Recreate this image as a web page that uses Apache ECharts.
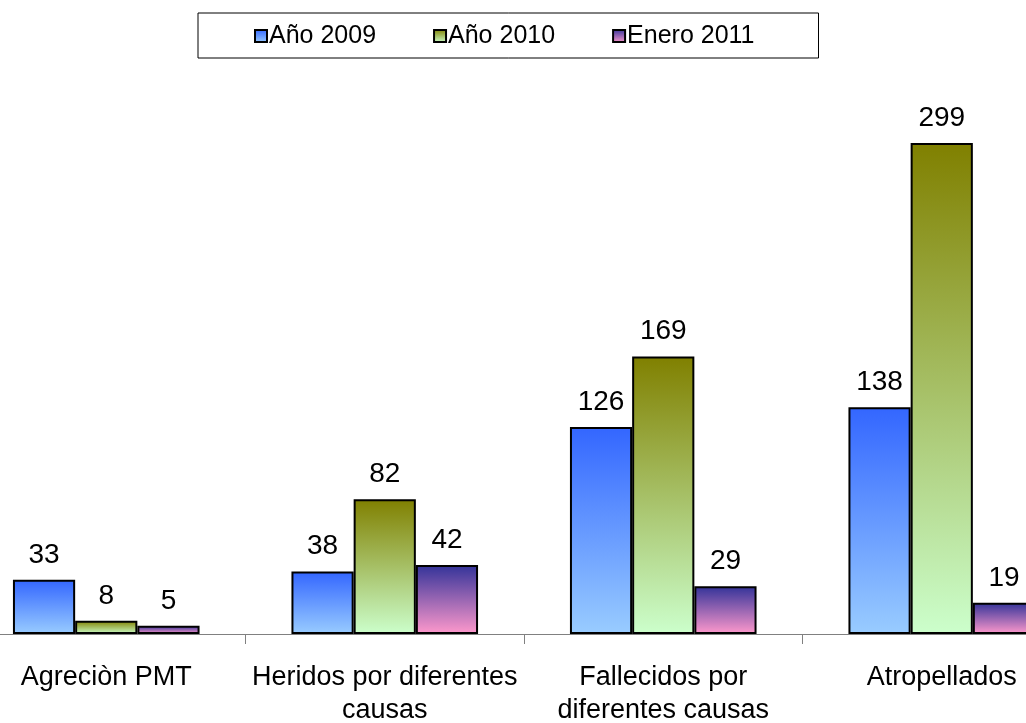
<!DOCTYPE html>
<html>
<head>
<meta charset="utf-8">
<script src="https://cdn.jsdelivr.net/npm/echarts@6/dist/echarts.min.js"></script>
<style>
  html, body { margin: 0; padding: 0; background: #fff; overflow: hidden; }
  #marco { width: 1026px; height: 723px; overflow: hidden; position: relative; }
  /* el area de trazado se sale de la imagen por ambos lados */
  #grafico { width: 1114px; height: 723px; position: absolute; left: -33px; top: 0; }
</style>
</head>
<body>
<div id="marco"><div id="grafico"></div></div>
<script>
// datos
const categorias = [
  "Agreciòn PMT",
  "Heridos por diferentes\ncausas",
  "Fallecidos por\ndiferentes causas",
  "Atropellados"
];
const nombresSeries = ["Año 2009", "Año 2010", "Enero 2011"];
const valores2009 = [33, 38, 126, 138];
const valores2010 = [8, 82, 169, 299];
const valoresEnero2011 = [5, 42, 29, 19];

// colores de degradado (arriba -> abajo)
const degradados = [
  ["#3366ff", "#99ccff"],
  ["#808000", "#ccffcc"],
  ["#333399", "#ff99cc"]
];

function degradado(par) {
  return new echarts.graphic.LinearGradient(0, 0, 0, 1, [
    { offset: 0, color: par[0] },
    { offset: 1, color: par[1] }
  ]);
}

const fuente = "'Liberation Sans', Arial, sans-serif";
const datos = [valores2009, valores2010, valoresEnero2011];

let myChart = echarts.init(document.getElementById("grafico"));

let option = {
  backgroundColor: "#fff",
  animation: false,
  legend: {
    data: nombresSeries,
    top: 13,
    left: 231,
    padding: [8, 64, 7, 56],
    borderColor: "#000",
    borderWidth: 1,
    itemWidth: 12,
    itemHeight: 12,
    itemGap: 57,
    icon: "rect",
    textStyle: {
      fontFamily: fuente,
      fontSize: 25,
      lineHeight: 30,
      color: "#000",
      padding: [0, 0, 0, -3]
    }
  },
  grid: {
    left: 0,
    right: 0,
    top: 92,
    bottom: 89,
    outerBoundsMode: "none",
    containLabel: false
  },
  xAxis: {
    type: "category",
    data: categorias,
    axisLine: { show: true, lineStyle: { color: "#808080", width: 1 } },
    axisTick: { show: true, length: 10, lineStyle: { color: "#808080" } },
    axisLabel: {
      interval: 0,
      margin: 27,
      fontFamily: fuente,
      fontSize: 27,
      lineHeight: 33,
      color: "#000"
    }
  },
  yAxis: {
    type: "value",
    min: 0,
    max: 330,
    show: false,
    splitLine: { show: false }
  },
  series: nombresSeries.map((nombre, i) => ({
    name: nombre,
    type: "bar",
    data: datos[i],
    barGap: "0%",
    barCategoryGap: "33%",
    itemStyle: {
      color: degradado(degradados[i]),
      borderColor: "#000",
      borderWidth: 2
    },
    label: {
      show: true,
      position: "top",
      distance: 11,
      fontFamily: fuente,
      fontSize: 28,
      color: "#000"
    }
  }))
};

myChart.setOption(option);
</script>
</body>
</html>
